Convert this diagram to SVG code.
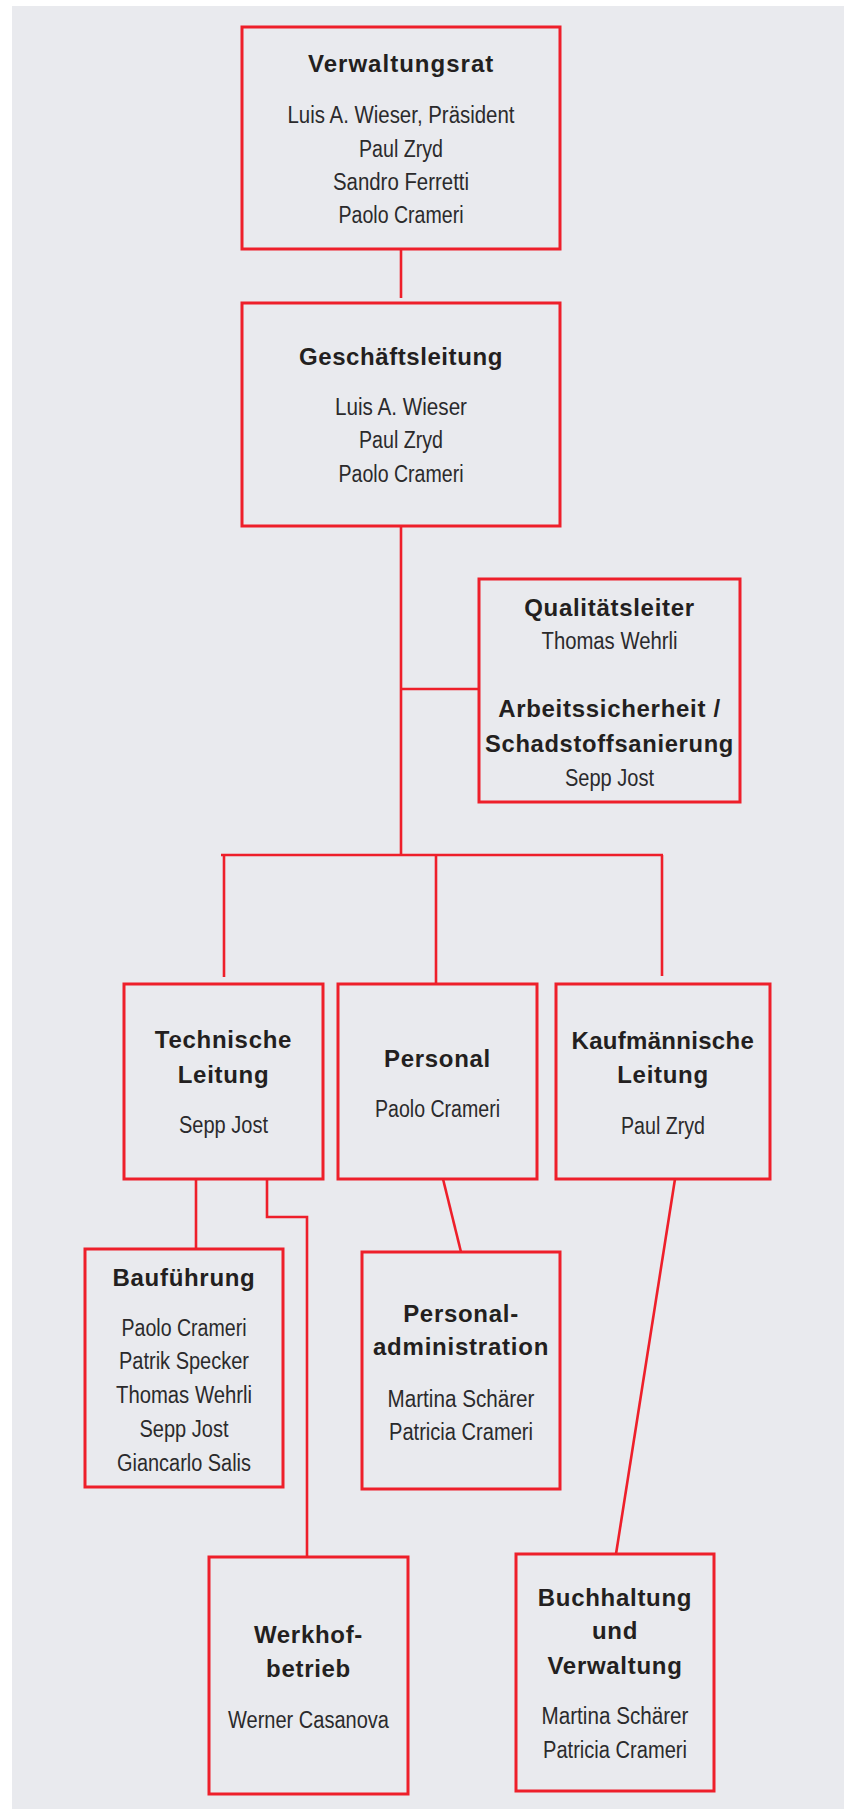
<svg xmlns="http://www.w3.org/2000/svg" width="849" height="1809" viewBox="0 0 849 1809">
<style>
.bg{fill:#e9eaee}
.box{fill:none;stroke:#ee1f2a;stroke-width:3}
.ln{fill:none;stroke:#ee1f2a;stroke-width:2.6}
.t{font-family:"Liberation Sans",Arial,sans-serif;font-weight:bold;font-size:24px;letter-spacing:0.7px;fill:#231f20;text-anchor:middle}
.n{font-family:"Liberation Sans",Arial,sans-serif;font-size:23.5px;fill:#2b2a2c;text-anchor:middle}
</style>
<rect class="bg" x="12" y="6" width="832" height="1803"/>
<g id="connectors">
<line class="ln" x1="401" y1="249" x2="401" y2="298"/>
<line class="ln" x1="401" y1="526" x2="401" y2="856"/>
<line class="ln" x1="401" y1="689" x2="479" y2="689"/>
<line class="ln" x1="221" y1="855" x2="663" y2="855"/>
<line class="ln" x1="224" y1="855" x2="224" y2="977"/>
<line class="ln" x1="436" y1="855" x2="436" y2="984"/>
<line class="ln" x1="662" y1="855" x2="662" y2="976"/>
<line class="ln" x1="196" y1="1179" x2="196" y2="1249"/>
<polyline class="ln" points="267,1179 267,1217 307,1217 307,1557"/>
<line class="ln" x1="443" y1="1179" x2="461" y2="1252"/>
<line class="ln" x1="675" y1="1179" x2="616" y2="1554"/>
</g>
<g id="verwaltungsrat">
<rect class="box" x="242" y="27" width="318" height="222"/>
<text class="t" x="401" y="72" textLength="186">Verwaltungsrat</text>
<text class="n" x="401" y="123" textLength="227" lengthAdjust="spacingAndGlyphs">Luis A. Wieser, Präsident</text>
<text class="n" x="401" y="157" textLength="84" lengthAdjust="spacingAndGlyphs">Paul Zryd</text>
<text class="n" x="401" y="190" textLength="136" lengthAdjust="spacingAndGlyphs">Sandro Ferretti</text>
<text class="n" x="401" y="223" textLength="125" lengthAdjust="spacingAndGlyphs">Paolo Crameri</text>
</g>
<g id="geschaeftsleitung">
<rect class="box" x="242" y="303" width="318" height="223"/>
<text class="t" x="401" y="365" textLength="204">Geschäftsleitung</text>
<text class="n" x="401" y="415" textLength="132" lengthAdjust="spacingAndGlyphs">Luis A. Wieser</text>
<text class="n" x="401" y="448" textLength="84" lengthAdjust="spacingAndGlyphs">Paul Zryd</text>
<text class="n" x="401" y="482" textLength="125" lengthAdjust="spacingAndGlyphs">Paolo Crameri</text>
</g>
<g id="qualitaet">
<rect class="box" x="479" y="579" width="261" height="223"/>
<text class="t" x="609.5" y="616">Qualitätsleiter</text>
<text class="n" x="609.5" y="649" textLength="136" lengthAdjust="spacingAndGlyphs">Thomas Wehrli</text>
<text class="t" x="609.5" y="717">Arbeitssicherheit /</text>
<text class="t" x="609.5" y="752" textLength="249" lengthAdjust="spacingAndGlyphs">Schadstoffsanierung</text>
<text class="n" x="609.5" y="786" textLength="89" lengthAdjust="spacingAndGlyphs">Sepp Jost</text>
</g>
<g id="technische">
<rect class="box" x="124" y="984" width="199" height="195"/>
<text class="t" x="223.5" y="1048">Technische</text>
<text class="t" x="223.5" y="1083">Leitung</text>
<text class="n" x="223.5" y="1133" textLength="89" lengthAdjust="spacingAndGlyphs">Sepp Jost</text>
</g>
<g id="personal">
<rect class="box" x="338" y="984" width="199" height="195"/>
<text class="t" x="437.5" y="1067">Personal</text>
<text class="n" x="437.5" y="1117" textLength="125" lengthAdjust="spacingAndGlyphs">Paolo Crameri</text>
</g>
<g id="kaufmaennische">
<rect class="box" x="556" y="984" width="214" height="195"/>
<text class="t" x="663" y="1049" textLength="183">Kaufmännische</text>
<text class="t" x="663" y="1083">Leitung</text>
<text class="n" x="663" y="1134" textLength="84" lengthAdjust="spacingAndGlyphs">Paul Zryd</text>
</g>
<g id="baufuehrung">
<rect class="box" x="85" y="1249" width="198" height="238"/>
<text class="t" x="184" y="1286">Bauführung</text>
<text class="n" x="184" y="1336" textLength="125" lengthAdjust="spacingAndGlyphs">Paolo Crameri</text>
<text class="n" x="184" y="1369" textLength="130" lengthAdjust="spacingAndGlyphs">Patrik Specker</text>
<text class="n" x="184" y="1403" textLength="136" lengthAdjust="spacingAndGlyphs">Thomas Wehrli</text>
<text class="n" x="184" y="1437" textLength="89" lengthAdjust="spacingAndGlyphs">Sepp Jost</text>
<text class="n" x="184" y="1471" textLength="134" lengthAdjust="spacingAndGlyphs">Giancarlo Salis</text>
</g>
<g id="personaladmin">
<rect class="box" x="362" y="1252" width="198" height="237"/>
<text class="t" x="461" y="1322">Personal-</text>
<text class="t" x="461" y="1355" textLength="176">administration</text>
<text class="n" x="461" y="1407" textLength="147" lengthAdjust="spacingAndGlyphs">Martina Schärer</text>
<text class="n" x="461" y="1440" textLength="144" lengthAdjust="spacingAndGlyphs">Patricia Crameri</text>
</g>
<g id="werkhof">
<rect class="box" x="209" y="1557" width="199" height="237"/>
<text class="t" x="308.5" y="1643">Werkhof-</text>
<text class="t" x="308.5" y="1677">betrieb</text>
<text class="n" x="308.5" y="1728" textLength="161" lengthAdjust="spacingAndGlyphs">Werner Casanova</text>
</g>
<g id="buchhaltung">
<rect class="box" x="516" y="1554" width="198" height="237"/>
<text class="t" x="615" y="1606">Buchhaltung</text>
<text class="t" x="615" y="1639">und</text>
<text class="t" x="615" y="1674">Verwaltung</text>
<text class="n" x="615" y="1724" textLength="147" lengthAdjust="spacingAndGlyphs">Martina Schärer</text>
<text class="n" x="615" y="1758" textLength="144" lengthAdjust="spacingAndGlyphs">Patricia Crameri</text>
</g>
</svg>
